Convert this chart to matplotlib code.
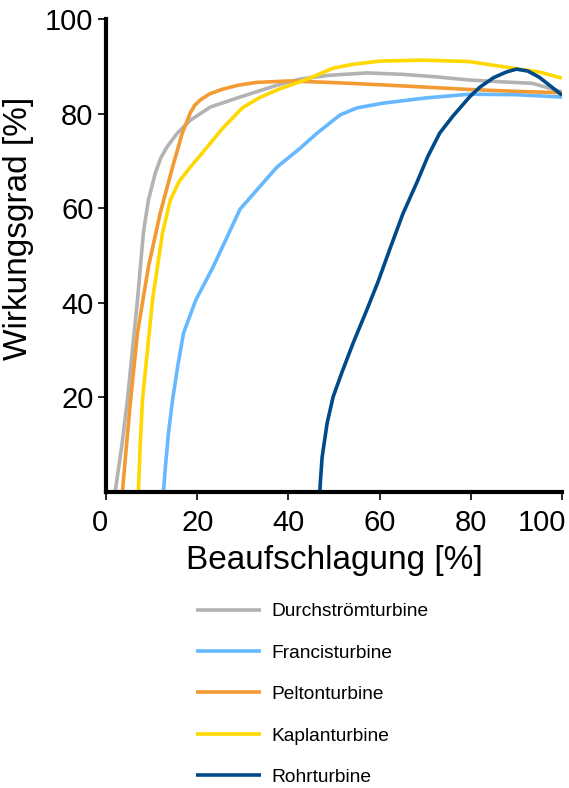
import matplotlib.pyplot as plt
import matplotlib.transforms as mtransforms

plt.rcParams['font.family'] = ['Liberation Sans', 'DejaVu Sans']

# Durchströmturbine
x_durch = [2.0, 3.5, 4.7, 6.0, 6.9, 8.2, 9.3, 10.8, 12.0, 13.4, 15.6, 18.5, 22.9, 29.4, 37.5, 42.6, 49.0, 57.2, 65.0, 72.0, 79.7, 87.0, 93.5, 100.0]
y_durch = [0.0, 10.0, 19.5, 32.0, 40.6, 54.8, 61.7, 67.4, 70.6, 73.0, 75.8, 78.6, 81.4, 83.5, 86.0, 87.3, 88.1, 88.6, 88.3, 87.8, 87.1, 86.7, 86.4, 84.6]

# Francisturbine
x_francis = [12.6, 13.0, 13.7, 14.6, 15.8, 17.0, 19.7, 23.5, 29.4, 37.5, 42.6, 46.2, 51.3, 55.0, 60.7, 70.0, 79.7, 90.0, 100.0]
y_francis = [0.0, 5.0, 12.5, 19.5, 27.0, 33.6, 40.6, 47.6, 59.8, 68.7, 72.7, 75.8, 79.7, 81.2, 82.2, 83.3, 84.1, 84.0, 83.5]

# Peltonturbine
x_pelton = [3.6, 4.5, 5.4, 6.9, 9.3, 11.9, 14.6, 16.7, 18.5, 19.5, 20.7, 22.8, 25.7, 29.0, 33.0, 40.4, 51.3, 60.0, 70.0, 79.7, 90.0, 100.0]
y_pelton = [0.0, 10.0, 19.5, 33.6, 47.6, 59.0, 68.7, 75.8, 80.2, 81.8, 82.9, 84.2, 85.2, 86.0, 86.6, 86.9, 86.5, 86.1, 85.6, 85.1, 84.7, 84.4]

# Kaplanturbine
x_kaplan = [7.1, 7.5, 8.0, 10.2, 12.4, 14.1, 16.0, 18.5, 21.3, 25.5, 29.9, 33.5, 37.5, 44.7, 49.8, 54.0, 60.0, 69.5, 79.7, 89.2, 95.0, 100.0]
y_kaplan = [0.0, 10.0, 19.5, 40.6, 54.8, 61.7, 65.6, 68.7, 71.9, 76.8, 81.2, 83.3, 85.0, 87.5, 89.6, 90.4, 91.1, 91.3, 91.0, 89.6, 88.8, 87.5]

# Rohrturbine
x_rohr = [46.9, 47.0, 47.4, 48.5, 49.8, 51.7, 54.2, 57.2, 59.6, 62.3, 65.1, 68.2, 70.6, 73.2, 76.1, 79.8, 82.0, 85.0, 87.8, 90.0, 92.5, 95.0, 100.0]
y_rohr = [0.0, 2.0, 7.4, 14.6, 20.1, 25.2, 31.5, 38.5, 44.3, 51.5, 58.8, 65.5, 71.0, 75.9, 79.5, 83.6, 85.6, 87.6, 88.8, 89.4, 89.0, 87.7, 83.9]

names = ['Durchströmturbine', 'Francisturbine', 'Peltonturbine', 'Kaplanturbine', 'Rohrturbine']
colors = ['#b3b3b3', '#66b8ff', '#f39a33', '#ffd800', '#004a8a']
xticks = [0, 20, 40, 60, 80, 100]
yticks = [20, 40, 60, 80, 100]

fig = plt.figure(figsize=(5.69, 7.88), dpi=100)
ax = fig.add_axes([106 / 569, 1 - 492 / 788, 456 / 569, 473 / 788])

series = [(x_durch, y_durch), (x_francis, y_francis), (x_pelton, y_pelton),
          (x_kaplan, y_kaplan), (x_rohr, y_rohr)]
handles = []
for (xs, ys), name, c in zip(series, names, colors):
    h, = ax.plot(xs, ys, color=c, lw=2.6, label=name, solid_capstyle='butt',
                 solid_joinstyle='round')
    handles.append(h)

ax.set_xlim(0, 100)
ax.set_ylim(0, 100)
ax.set_xticks(xticks)
ax.set_yticks(yticks)
ax.tick_params(labelsize=21, length=6, width=1.2, direction='out')
ax.tick_params(axis='x', pad=6)
ax.tick_params(axis='y', pad=3)
for side in ['top', 'right']:
    ax.spines[side].set_visible(False)
for side in ['left', 'bottom']:
    ax.spines[side].set_linewidth(3)

# first and last x labels sit a bit off their ticks
labels = ax.get_xticklabels()
labels[0].set_transform(labels[0].get_transform() +
                        mtransforms.ScaledTranslation(-6 / 100, 0, fig.dpi_scale_trans))
labels[-1].set_horizontalalignment('right')
labels[-1].set_transform(labels[-1].get_transform() +
                         mtransforms.ScaledTranslation(4 / 100, 0, fig.dpi_scale_trans))

ax.set_xlabel('Beaufschlagung [%]', fontsize=24, labelpad=6)
ax.set_ylabel('Wirkungsgrad [%]', fontsize=24)
ax.yaxis.set_label_coords(-0.157, 0.558)

fig.legend(handles=handles, loc='upper left', bbox_to_anchor=(196 / 569, 1 - 603 / 788),
           frameon=False, fontsize=13.8, handlelength=3.4, handletextpad=0.52,
           labelspacing=1.25, borderpad=0, borderaxespad=0)

fig.savefig('out.png', dpi=100)
